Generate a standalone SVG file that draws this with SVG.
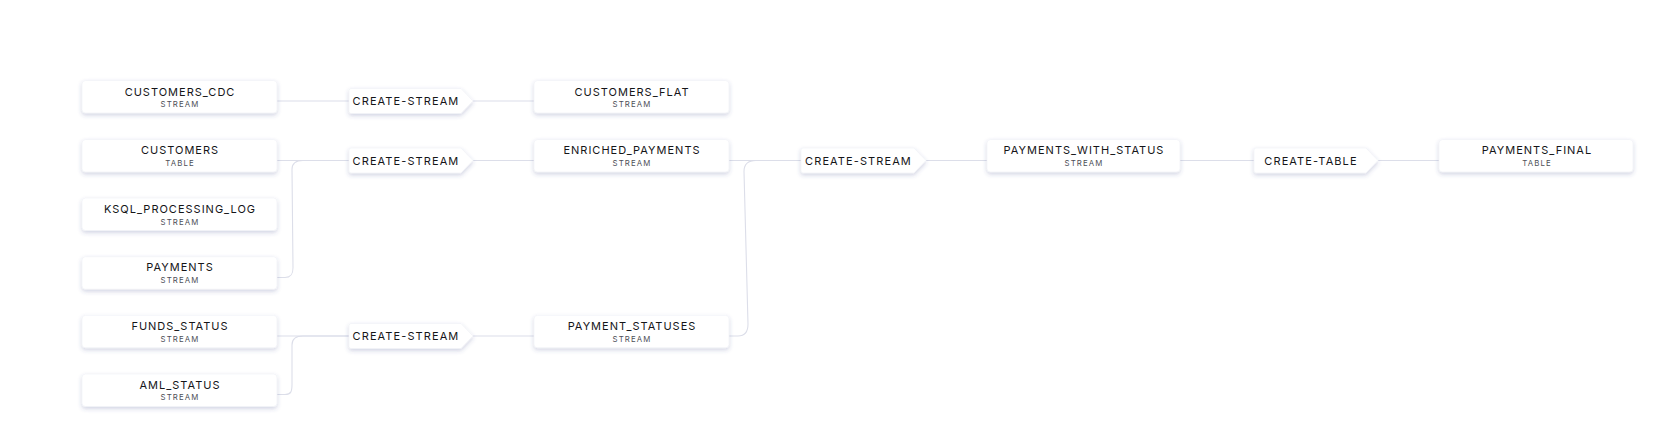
<svg xmlns="http://www.w3.org/2000/svg" width="1660" height="446" viewBox="0 0 1660 446">
<defs>
<filter id="sh" x="-10%" y="-30%" width="120%" height="180%">
<feDropShadow dx="0" dy="2" stdDeviation="2" flood-color="#3c4a8c" flood-opacity="0.24"/>
</filter>
<style>
.node rect{fill:#ffffff;stroke:#eef0f6;stroke-width:0.6;filter:url(#sh)}
.op path{fill:#ffffff;stroke:#eef0f6;stroke-width:0.6;filter:url(#sh)}
.t{font-family:Inter,"Noto Sans","Liberation Sans",sans-serif;font-size:11px;font-weight:400;letter-spacing:1px;fill:#151518;text-anchor:middle}
.s{font-family:Inter,"Noto Sans","Liberation Sans",sans-serif;font-size:7.8px;letter-spacing:1.1px;fill:#4e4f57;text-anchor:middle}
.o{font-family:Inter,"Noto Sans","Liberation Sans",sans-serif;font-size:11px;font-weight:400;letter-spacing:1.1px;fill:#151518;text-anchor:middle}
.e{fill:none;stroke:#dcdee9;stroke-width:1.1}
</style>
</defs>
<rect width="1660" height="446" fill="#ffffff"/>
<g id="connectors">
<path class="e" d="M277,101 H349"/>
<path class="e" d="M473,101 H534"/>
<path class="e" d="M277,160.5 H349"/>
<path class="e" d="M277,277.5 H285 C291,277.5 293,274.5 293,267.5 L292,169.5 C292,163.5 295,160.5 303,160.5 H349"/>
<path class="e" d="M473,160.5 H534"/>
<path class="e" d="M729,160.5 H801"/>
<path class="e" d="M729,336 H738 C745,336 748,332 748,324 L744,171.5 C744,163.5 748,160.5 756,160.5 H801"/>
<path class="e" d="M926,160.5 H987"/>
<path class="e" d="M1180,160.5 H1254"/>
<path class="e" d="M1378,160.5 H1439"/>
<path class="e" d="M277,336 H349"/>
<path class="e" d="M277,394.5 H285 C291,394.5 292,391.5 292,384.5 L292,345 C292,339 295,336 303,336 H349"/>
<path class="e" d="M473,336 H534"/>
</g>
<g id="customers_cdc" class="node"><rect x="82" y="80.5" width="195" height="32.5" rx="3.5"/><text class="t" x="180" y="95.5">CUSTOMERS_CDC</text><text class="s" x="180" y="107.3">STREAM</text></g>
<g id="customers" class="node"><rect x="82" y="139.5" width="195" height="32.5" rx="3.5"/><text class="t" x="180" y="154.3">CUSTOMERS</text><text class="s" x="180" y="166">TABLE</text></g>
<g id="ksql_processing_log" class="node"><rect x="82" y="198" width="195" height="32.5" rx="3.5"/><text class="t" x="180" y="212.8">KSQL_PROCESSING_LOG</text><text class="s" x="180" y="224.6">STREAM</text></g>
<g id="payments" class="node"><rect x="82" y="256.7" width="195" height="32.5" rx="3.5"/><text class="t" x="180" y="271.4">PAYMENTS</text><text class="s" x="180" y="283.2">STREAM</text></g>
<g id="funds_status" class="node"><rect x="82" y="315.3" width="195" height="32.5" rx="3.5"/><text class="t" x="180" y="329.8">FUNDS_STATUS</text><text class="s" x="180" y="341.6">STREAM</text></g>
<g id="aml_status" class="node"><rect x="82" y="374" width="195" height="32.5" rx="3.5"/><text class="t" x="180" y="388.6">AML_STATUS</text><text class="s" x="180" y="400.4">STREAM</text></g>
<g id="customers_flat" class="node"><rect x="534" y="80.5" width="195" height="32.5" rx="3.5"/><text class="t" x="632" y="95.5">CUSTOMERS_FLAT</text><text class="s" x="632" y="107.3">STREAM</text></g>
<g id="enriched_payments" class="node"><rect x="534" y="139.5" width="195" height="32.5" rx="3.5"/><text class="t" x="632" y="154.3">ENRICHED_PAYMENTS</text><text class="s" x="632" y="166">STREAM</text></g>
<g id="payment_statuses" class="node"><rect x="534" y="315.3" width="195" height="32.5" rx="3.5"/><text class="t" x="632" y="329.8">PAYMENT_STATUSES</text><text class="s" x="632" y="341.6">STREAM</text></g>
<g id="payments_with_status" class="node"><rect x="987" y="139.5" width="193" height="32.5" rx="3.5"/><text class="t" x="1084" y="154.3">PAYMENTS_WITH_STATUS</text><text class="s" x="1084" y="166">STREAM</text></g>
<g id="payments_final" class="node"><rect x="1439" y="139.5" width="194" height="32.5" rx="3.5"/><text class="t" x="1537" y="154.3">PAYMENTS_FINAL</text><text class="s" x="1537" y="166">TABLE</text></g>
<g id="op_cs1" class="op"><path d="M351,88.5 H461 L473,101 L461,113.5 H351 Q349,113.5 349,111.5 V90.5 Q349,88.5 351,88.5 Z"/><text class="o" x="406" y="105">CREATE-STREAM</text></g>
<g id="op_cs2" class="op"><path d="M351,148 H461 L473,160.5 L461,173 H351 Q349,173 349,171 V150 Q349,148 351,148 Z"/><text class="o" x="406" y="164.5">CREATE-STREAM</text></g>
<g id="op_cs3" class="op"><path d="M351,323.5 H461 L473,336 L461,348.5 H351 Q349,348.5 349,346.5 V325.5 Q349,323.5 351,323.5 Z"/><text class="o" x="406" y="340">CREATE-STREAM</text></g>
<g id="op_cs4" class="op"><path d="M803,148 H914 L926,160.5 L914,173 H803 Q801,173 801,171 V150 Q801,148 803,148 Z"/><text class="o" x="858.5" y="164.5">CREATE-STREAM</text></g>
<g id="op_ct" class="op"><path d="M1256,148 H1366 L1378,160.5 L1366,173 H1256 Q1254,173 1254,171 V150 Q1254,148 1256,148 Z"/><text class="o" x="1311" y="164.5">CREATE-TABLE</text></g>
</svg>
